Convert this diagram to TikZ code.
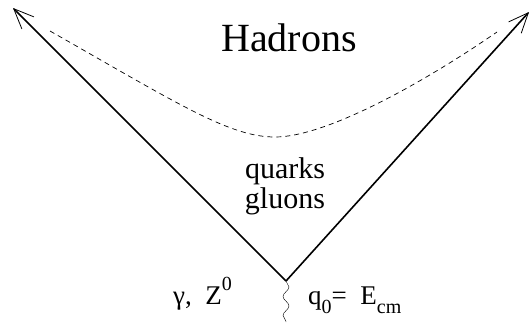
\documentclass[tikz,border=0pt]{standalone}
\usepackage{fontspec}
\setmainfont{Liberation Serif}
\usetikzlibrary{arrows.meta,positioning,decorations.pathmorphing}
\newcommand{\lowidx}[1]{\raisebox{-9pt}{\fontsize{20}{20}\selectfont #1}}
\newcommand{\highidx}[1]{\raisebox{14pt}{\fontsize{20}{20}\selectfont #1}}

\begin{document}
\begin{tikzpicture}[x=1pt, y=-1pt,
    jet/.style={line width=1.6pt, -{Straight Barb[length=20pt, width=17pt, line width=0.8pt]}},
    label/.style={font=\fontsize{27}{29}\selectfont, inner sep=0pt}]
    \useasboundingbox (0,0) rectangle (530,322);
    \coordinate (vtx) at (286,281);
    \coordinate (ltip) at (13,8);
    \coordinate (rtip) at (529,12);
    \coordinate (bot) at (286,322);
    \draw[jet] (vtx) -- (ltip);
    \draw[jet] (vtx) -- (rtip);
    \draw[decorate, decoration={snake, amplitude=3pt, segment length=19pt}] (vtx) -- (bot);
    \draw[dashed, dash pattern=on 5pt off 4pt, line width=0.7pt]
      (50,31) .. controls (180,105) and (230,137) .. (275,137)
      .. controls (325,137) and (420,85) .. (497,32);
    \node[label, anchor=base, font=\fontsize{40}{42}\selectfont] (had) at (289,51) {Hadrons};
    \node[label, anchor=base, font=\fontsize{30}{30}\selectfont] (qk) at (285,178) {quarks};
    \node[label, anchor=base, font=\fontsize{30}{30}\selectfont] (gl) at (285,208) {gluons};
    \node[label, anchor=base west] (gam) at (173,304) {γ,\ \ Z\highidx{0}};
    \node[label, anchor=base west] (qnot) at (308,304) {q\lowidx{0}= \ E\lowidx{cm}};
  \end{tikzpicture}
\end{document}
